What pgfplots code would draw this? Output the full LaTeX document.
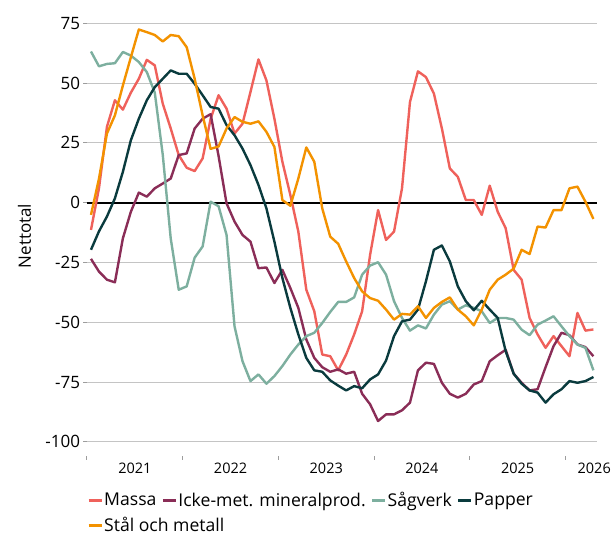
\documentclass[border=0pt]{standalone}
\usepackage{fontspec}
\setmainfont{Open Sans}
\usepackage{pgfplots}
\pgfplotsset{compat=1.18}
\definecolor{cMassa}{HTML}{EF615B}
\definecolor{cIcke}{HTML}{8A2D57}
\definecolor{cSag}{HTML}{7DAF9F}
\definecolor{cPapper}{HTML}{0A3B3E}
\definecolor{cStal}{HTML}{F39200}
\definecolor{cGrid}{HTML}{C4C4C4}
\begin{document}
\begin{tikzpicture}
\path[use as bounding box] (-87bp,-80.8bp) rectangle (529bp,456.2bp);
\begin{axis}[
  scale only axis,
  width=510.4bp, height=440.1bp,
  xmin=-0.5, xmax=63.5,
  ymin=-106, ymax=78,
  axis line style={draw=none},
  xtick={-0.5,11.5,23.5,35.5,47.5,59.5},
  xticklabels={},
  extra x ticks={5.5,17.5,29.5,41.5,53.5,63.1},
  extra x tick labels={2021,2022,2023,2024,2025,2026},
  extra x tick style={major tick length=0pt, grid=none,
    tick label style={font=\fontsize{14.5bp}{17bp}\selectfont, yshift=-3bp}},
  ytick={-100,-75,-50,-25,0,25,50,75},
  yticklabel style={font=\fontsize{17bp}{20bp}\selectfont},
  /pgf/number format/assume math mode=true,
  ymajorgrids,
  grid style={cGrid, line width=1bp},
  tick align=outside,
  major tick length=3.5bp,
  tick style={cGrid!80!black, line width=1bp},
  xtick pos=bottom, ytick pos=left,
  ylabel={Nettotal},
  every axis y label/.style={at={(axis description cs:-0.1225,0.5)}, rotate=90, anchor=center, font=\fontsize{17bp}{20bp}\selectfont},
  legend columns=4,
  legend cell align=left,
  legend style={at={(axis description cs:0,0)}, anchor=north west, yshift=-33bp, xshift=-3bp,
    draw=none, fill=none, font=\fontsize{17.6bp}{20bp}\selectfont,
    row sep=7bp, column sep=0bp, nodes={inner sep=1bp}},
  /tikz/every even column/.append style={column sep=4bp},
  legend image code/.code={\draw[line width=3bp] (0bp,0bp) -- (13bp,0bp);},
  every axis plot/.append style={line width=2.4bp, line join=round},
]
\addplot[black, line width=1.8bp, forget plot] coordinates {(-0.5,0) (63.5,0)};
\addplot[cMassa] coordinates {
(0,-11.4)(1,6)(2,31.7)(3,42.8)(4,38.9)(5,46)(6,51.8)(7,59.7)(8,57.4)(9,41.4)
(10,31)(11,19.9)(12,14.6)(13,13.2)(14,18.5)(15,35)(16,44.9)(17,39.3)(18,28.9)(19,33)
(20,46.3)(21,59.9)(22,51.1)(23,35.1)(24,17.1)(25,3.2)(26,-12.1)(27,-36.4)(28,-45.4)(29,-63.5)
(30,-64.2)(31,-70.1)(32,-63.5)(33,-55.1)(34,-45.4)(35,-21.8)(36,-3.1)(37,-15.6)(38,-12.1)(39,6)
(40,42.1)(41,54.9)(42,52.5)(43,45.6)(44,31)(45,14.3)(46,10.8)(47,1.1)(48,1.1)(49,-5.1)
(50,7.1)(51,-3.8)(52,-10.7)(53,-28.1)(54,-32.2)(55,-48.2)(56,-55.1)(57,-60.7)(58,-55.8)(59,-60)
(60,-64.2)(61,-46.1)(62,-53.5)(63,-53)};
\addlegendentry{Massa}
\addplot[cIcke] coordinates {
(0,-23.5)(1,-28.8)(2,-32.2)(3,-33.3)(4,-14.9)(5,-3.8)(6,4.2)(7,2.5)(8,6)(9,8)
(10,10.1)(11,19.9)(12,20.6)(13,31)(14,35.1)(15,37)(16,19.5)(17,-0.3)(18,-7.9)(19,-13.5)
(20,-16.3)(21,-27.4)(22,-27.1)(23,-33.6)(24,-28.1)(25,-35.7)(26,-44)(27,-57.2)(28,-64.9)(29,-68.8)
(30,-70.7)(31,-69.7)(32,-71.5)(33,-70.7)(34,-79.9)(35,-84.3)(36,-91.3)(37,-88.5)(38,-88.5)(39,-86.8)
(40,-83.6)(41,-70.1)(42,-66.9)(43,-67.4)(44,-75.3)(45,-79.9)(46,-81.5)(47,-79.9)(48,-76)(49,-74.6)
(50,-66.3)(51,-63.8)(52,-61.5)(53,-71.5)(54,-75.3)(55,-78.5)(56,-78)(57,-68.8)(58,-60)(59,-54.4)
(60,-55.4)(61,-59.3)(62,-60.4)(63,-64.2)};
\addlegendentry{Icke-met. mineralprod.}
\addplot[cSag] coordinates {
(0,63.2)(1,57)(2,58)(3,58.3)(4,63)(5,61.5)(6,58.8)(7,54.6)(8,46)(9,20)
(10,-15)(11,-36.4)(12,-35)(13,-23)(14,-18.3)(15,0.4)(16,-1.5)(17,-13.5)(18,-51.7)(19,-66.3)
(20,-74.6)(21,-71.8)(22,-75.7)(23,-72.5)(24,-68.3)(25,-63.5)(26,-59.3)(27,-55.8)(28,-54.4)(29,-50.3)
(30,-45.7)(31,-41.5)(32,-41.5)(33,-39.6)(34,-30.1)(35,-26.3)(36,-24.9)(37,-30.1)(38,-41.2)(39,-48.2)
(40,-53.5)(41,-51.3)(42,-52.6)(43,-46.8)(44,-42.6)(45,-41.2)(46,-44.7)(47,-42.9)(48,-44)(49,-45.4)
(50,-50.3)(51,-48.2)(52,-48.2)(53,-48.9)(54,-53.1)(55,-55.4)(56,-51)(57,-49.3)(58,-47.5)(59,-51.7)
(60,-55.8)(61,-59.3)(62,-60.7)(63,-70.1)};
\addlegendentry{Sågverk}
\addplot[cPapper] coordinates {
(0,-19.7)(1,-12)(2,-5.8)(3,1.8)(4,12.9)(5,26.1)(6,35.1)(7,42.8)(8,48.3)(9,51.8)
(10,55.3)(11,53.9)(12,53.9)(13,49.7)(14,44.9)(15,40)(16,39.3)(17,32.4)(18,28.2)(19,22.6)
(20,15.7)(21,7.4)(22,-2.4)(23,-16.3)(24,-31.5)(25,-44)(26,-55.1)(27,-64.9)(28,-70.1)(29,-70.7)
(30,-74.3)(31,-76.5)(32,-78.5)(33,-76.7)(34,-77.6)(35,-73.9)(36,-71.8)(37,-66)(38,-55.8)(39,-49.6)
(40,-48.9)(41,-44.7)(42,-32.9)(43,-19.7)(44,-17.9)(45,-24.6)(46,-35)(47,-41.2)(48,-45)(49,-41)
(50,-44.7)(51,-48.2)(52,-62.1)(53,-71.5)(54,-75.7)(55,-78.5)(56,-79.4)(57,-83.6)(58,-80.1)(59,-78)
(60,-74.6)(61,-75.3)(62,-74.6)(63,-72.9)};
\addlegendentry{Papper}
\addplot[cStal] coordinates {
(0,-5.1)(1,10)(2,28.9)(3,36.5)(4,49)(5,60.8)(6,72.4)(7,71.3)(8,70.1)(9,67.4)
(10,70.1)(11,69.6)(12,65)(13,51.8)(14,36.5)(15,22.5)(16,23.5)(17,31)(18,35.8)(19,33.8)
(20,33)(21,34)(22,29.6)(23,23.3)(24,1.1)(25,-1.3)(26,10.1)(27,23.1)(28,17.1)(29,-2.4)
(30,-14.2)(31,-17.2)(32,-24.6)(33,-31.5)(34,-37.1)(35,-39.9)(36,-41)(37,-44.7)(38,-48.9)(39,-46.5)
(40,-46.8)(41,-43.3)(42,-48.2)(43,-44)(44,-41.5)(45,-39.6)(46,-44.7)(47,-47.5)(48,-51.3)(49,-44.7)
(50,-36.4)(51,-32.2)(52,-30.1)(53,-27.6)(54,-19.7)(55,-21.5)(56,-10)(57,-10.4)(58,-3.1)(59,-3.1)
(60,6)(61,6.7)(62,0.4)(63,-6.8)};
\addlegendentry{\makebox[0pt][l]{Stål och metall}}
\end{axis}
\end{tikzpicture}
\end{document}
